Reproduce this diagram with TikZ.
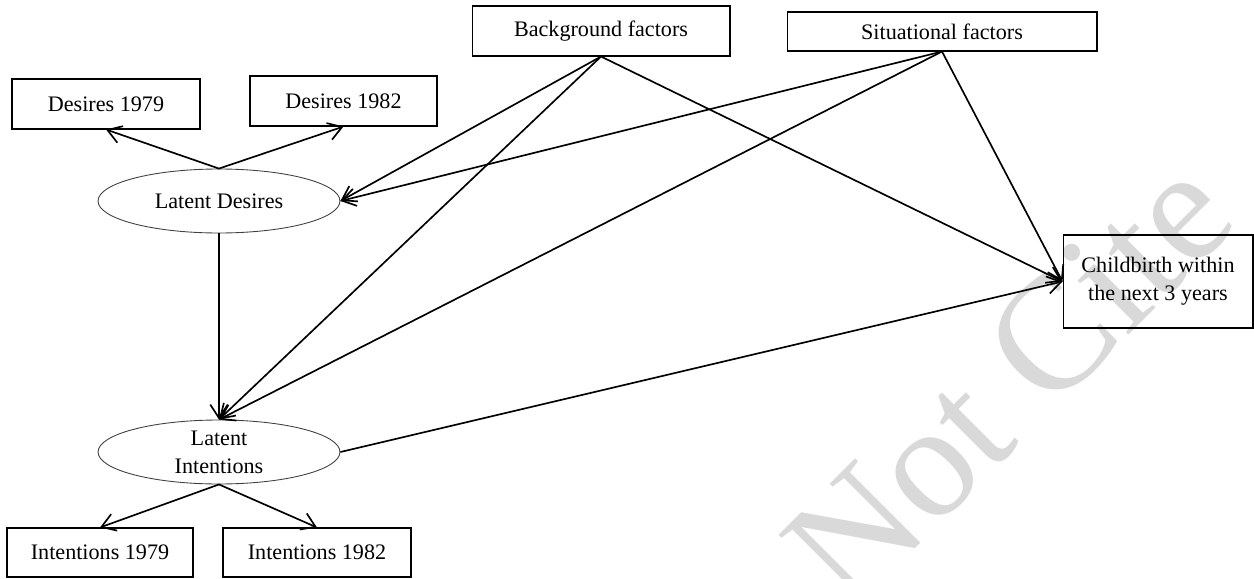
\documentclass[tikz,border=0pt]{standalone}
\usepackage{fontspec}
\setmainfont{Liberation Serif}
\usetikzlibrary{arrows.meta,shapes.geometric}

\begin{document}
\begin{tikzpicture}[
  x=0.02cm, y=-0.02cm,
  every node/.style={font=\fontsize{12.6}{16}\selectfont, text=black},
  box/.style={draw, line width=0.6pt, rectangle, inner sep=0pt, align=center},
  latent/.style={draw, line width=0.5pt, draw=black!75, ellipse, inner sep=0pt,
                 minimum width=4.84cm, minimum height=1.28cm, align=center},
  path/.style={line width=0.95pt, -{Straight Barb[length=2.7mm,width=3.5mm,line width=0.95pt]}},
  watermark/.style={font=\fontsize{92}{92}\selectfont, text=black!15, inner sep=0pt}
]
\useasboundingbox (0,0) rectangle (1254,578);

% faint diagonal watermark behind everything, clipped to the page
\begin{scope}
  \clip (0,0) rectangle (1254,578);
  \node[watermark, rotate=45, anchor=base west] (wm) at (850,614) {Not Cite};
\end{scope}

% observed indicators and latent variables
\node[box, minimum width=3.76cm, minimum height=1.0cm] (d79) at (106,104) {Desires 1979};
\node[box, minimum width=3.74cm, minimum height=1.0cm] (d82) at (343.5,101) {Desires 1982};
\node[latent] (ld) at (219,201) {Latent Desires};
\node[latent] (li) at (219,452) {Latent\\Intentions};
\node[box, minimum width=3.72cm, minimum height=0.98cm] (i79) at (100,552.5) {Intentions 1979};
\node[box, minimum width=3.76cm, minimum height=0.98cm] (i82) at (317,552.5) {Intentions 1982};

% exogenous factors and outcome
\node[box, minimum width=5.16cm, minimum height=1.0cm] (bg) at (601,31) {Background factors};
\node[box, minimum width=6.2cm, minimum height=0.78cm] (sf) at (942,31.5) {Situational factors};
\node[box, minimum width=3.8cm, minimum height=1.86cm] (cb) at (1158,281.5) {Childbirth within\\the next 3 years};

% measurement paths
\draw[path] (ld.north) -- (d79.south);
\draw[path] (ld.north) -- (d82.south);
\draw[path] (li.south) -- (i79.north);
\draw[path] (li.south) -- (i82.north);

% structural paths
\draw[path] (ld.south) -- (li.north);
\draw[path] (bg.south) -- (ld.east);
\draw[path] (bg.south) -- (li.north);
\draw[path] (bg.south) -- (cb.west);
\draw[path] (sf.south) -- (ld.east);
\draw[path] (sf.south) -- (li.north);
\draw[path] (sf.south) -- (cb.west);
\draw[path] (li.east) -- (cb.west);
\end{tikzpicture}
\end{document}
